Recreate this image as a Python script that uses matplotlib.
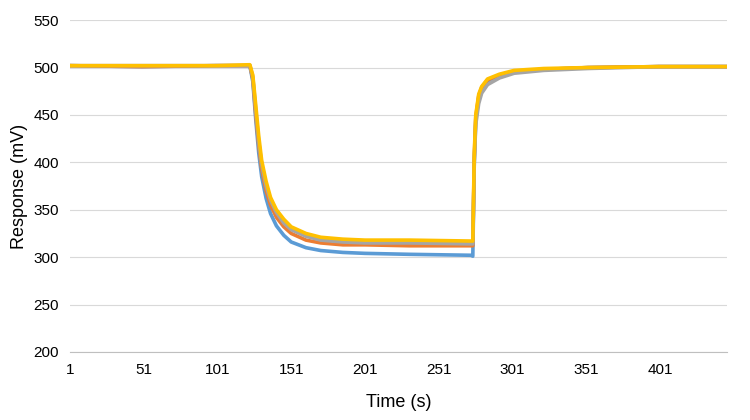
import matplotlib
matplotlib.use("Agg")
import matplotlib.pyplot as plt

time_s = [1, 50, 100, 123, 125, 127, 129, 131, 134, 137, 141, 146, 151, 161, 171, 186, 201, 231, 273, 274, 275, 276, 278, 280, 284, 292, 302, 322, 352, 400, 445]
blue   = [502, 501, 502, 502, 485, 445, 410, 385, 362, 346, 333, 323, 316, 310, 307, 305, 304, 303, 302, 301, 400, 445, 468, 478, 486, 492, 496, 498, 500, 501, 501]
orange = [502, 501, 502, 502, 488, 450, 418, 393, 370, 355, 342, 332, 325, 318, 315, 313, 313, 312, 312, 312, 405, 448, 470, 479, 487, 492, 496, 498, 500, 501, 501]
gray   = [502, 502, 502, 502, 490, 455, 422, 398, 375, 360, 347, 336, 329, 322, 318, 316, 315, 315, 314, 314, 400, 440, 462, 473, 482, 489, 494, 497, 499, 501, 501]
yellow = [502, 502, 502, 503, 492, 460, 428, 402, 380, 363, 350, 340, 332, 325, 321, 319, 318, 318, 317, 317, 410, 450, 472, 480, 488, 493, 497, 499, 500, 501, 501]
series = [("blue", blue, "#5B9BD5"), ("orange", orange, "#ED7D31"), ("gray", gray, "#A5A5A5"), ("yellow", yellow, "#FFC000")]
xticks = [1, 51, 101, 151, 201, 251, 301, 351, 401]
yticks = [200, 250, 300, 350, 400, 450, 500, 550]

plt.rcParams["font.family"] = "Liberation Sans"
fig = plt.figure(figsize=(7.5, 4.2), dpi=100)
ax = fig.add_axes([0.093, 0.162, 0.876, 0.79])
for name, vals, c in series:
    ax.plot(time_s, vals, color=c, lw=2.6, solid_joinstyle="round")
ax.set_xlim(1, 446)
ax.set_ylim(200, 550)
ax.set_xticks(xticks)
ax.set_yticks(yticks)
ax.grid(axis="y", color="#d9d9d9", lw=0.8)
ax.set_axisbelow(True)
for s in ["top", "right", "left"]:
    ax.spines[s].set_visible(False)
ax.spines["bottom"].set_color("#bfbfbf")
ax.tick_params(length=0, labelsize=11, pad=8)
ax.set_xlabel("Time (s)", fontsize=13, labelpad=12)
ax.set_ylabel("Response (mV)", fontsize=13)
fig.savefig("out.png", dpi=100)
